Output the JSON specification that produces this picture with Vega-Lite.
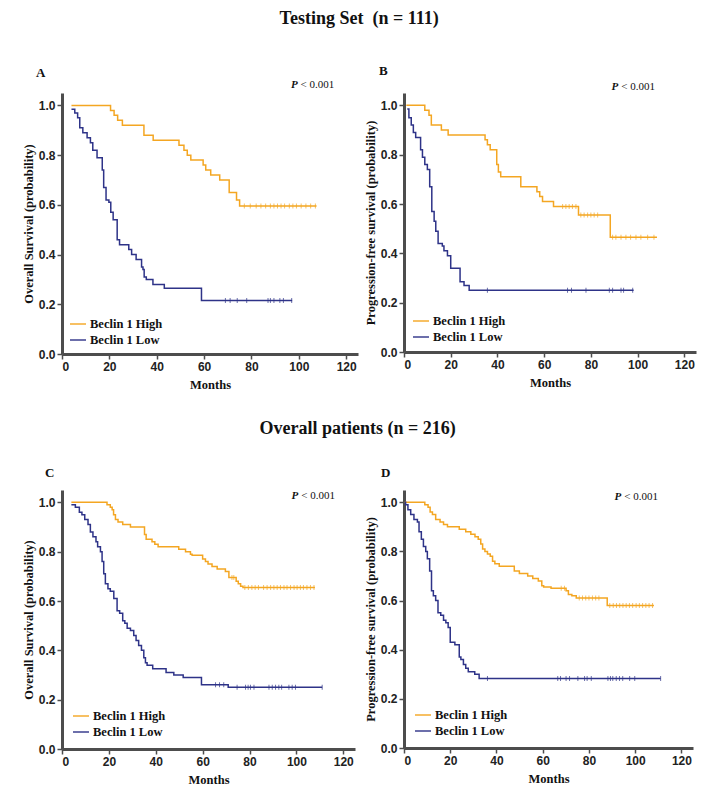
{
  "$schema": "https://vega.github.io/schema/vega-lite/v6.json",
  "background": "white",
  "padding": {"left": 22, "top": 10, "right": 5, "bottom": 5},
  "config": {
    "view": {"stroke": null},
    "axis": {"grid": false, "domainColor": "#4d4d4d", "domainWidth": 3, "tickColor": "#4d4d4d", "tickWidth": 1.5, "tickSize": 5, "labelPadding": 2, "labelFont": "Liberation Sans", "labelFontWeight": "bold", "labelFontSize": 12, "labelColor": "#222222", "titleFont": "Liberation Serif", "titleFontWeight": "bold", "titleFontSize": 12.5, "titleColor": "#111111", "titlePadding": 3},
    "axisX": {"titlePadding": 6},
    "legend": {"title": null, "symbolType": "stroke", "symbolSize": 256, "symbolStrokeWidth": 2, "labelFont": "Liberation Serif", "labelFontWeight": "bold", "labelFontSize": 12.5, "labelColor": "#111111", "labelOffset": 3, "rowPadding": 0, "padding": 0},
    "title": {"font": "Liberation Serif", "fontWeight": "bold", "color": "#111111"}
  },
  "datasets": {
    "curves": [
      {"panel":"A","group":"Beclin 1 High","month":4,"surv":1},
      {"panel":"A","group":"Beclin 1 High","month":20.5,"surv":0.98},
      {"panel":"A","group":"Beclin 1 High","month":22,"surv":0.96},
      {"panel":"A","group":"Beclin 1 High","month":23.5,"surv":0.94},
      {"panel":"A","group":"Beclin 1 High","month":25.5,"surv":0.92},
      {"panel":"A","group":"Beclin 1 High","month":34.6,"surv":0.88},
      {"panel":"A","group":"Beclin 1 High","month":38.5,"surv":0.86},
      {"panel":"A","group":"Beclin 1 High","month":49.4,"surv":0.84},
      {"panel":"A","group":"Beclin 1 High","month":51.5,"surv":0.82},
      {"panel":"A","group":"Beclin 1 High","month":52.9,"surv":0.80},
      {"panel":"A","group":"Beclin 1 High","month":54.4,"surv":0.78},
      {"panel":"A","group":"Beclin 1 High","month":59.6,"surv":0.76},
      {"panel":"A","group":"Beclin 1 High","month":60.7,"surv":0.74},
      {"panel":"A","group":"Beclin 1 High","month":62.8,"surv":0.72},
      {"panel":"A","group":"Beclin 1 High","month":66.6,"surv":0.70},
      {"panel":"A","group":"Beclin 1 High","month":70.6,"surv":0.65},
      {"panel":"A","group":"Beclin 1 High","month":73.7,"surv":0.62},
      {"panel":"A","group":"Beclin 1 High","month":75,"surv":0.595},
      {"panel":"A","group":"Beclin 1 High","month":107.5,"surv":0.595},
      {"panel":"A","group":"Beclin 1 Low","month":4,"surv":0.985},
      {"panel":"A","group":"Beclin 1 Low","month":5.4,"surv":0.97},
      {"panel":"A","group":"Beclin 1 Low","month":6.6,"surv":0.95},
      {"panel":"A","group":"Beclin 1 Low","month":7.5,"surv":0.91},
      {"panel":"A","group":"Beclin 1 Low","month":8.8,"surv":0.89},
      {"panel":"A","group":"Beclin 1 Low","month":10.6,"surv":0.87},
      {"panel":"A","group":"Beclin 1 Low","month":12,"surv":0.85},
      {"panel":"A","group":"Beclin 1 Low","month":13,"surv":0.82},
      {"panel":"A","group":"Beclin 1 Low","month":14.8,"surv":0.79},
      {"panel":"A","group":"Beclin 1 Low","month":17,"surv":0.74},
      {"panel":"A","group":"Beclin 1 Low","month":17.6,"surv":0.67},
      {"panel":"A","group":"Beclin 1 Low","month":18.6,"surv":0.62},
      {"panel":"A","group":"Beclin 1 Low","month":19.8,"surv":0.61},
      {"panel":"A","group":"Beclin 1 Low","month":20.6,"surv":0.57},
      {"panel":"A","group":"Beclin 1 Low","month":21.6,"surv":0.54},
      {"panel":"A","group":"Beclin 1 Low","month":23.3,"surv":0.46},
      {"panel":"A","group":"Beclin 1 Low","month":24.3,"surv":0.44},
      {"panel":"A","group":"Beclin 1 Low","month":28.2,"surv":0.42},
      {"panel":"A","group":"Beclin 1 Low","month":29.4,"surv":0.40},
      {"panel":"A","group":"Beclin 1 Low","month":31.3,"surv":0.38},
      {"panel":"A","group":"Beclin 1 Low","month":33.6,"surv":0.35},
      {"panel":"A","group":"Beclin 1 Low","month":34.2,"surv":0.34},
      {"panel":"A","group":"Beclin 1 Low","month":34.7,"surv":0.31},
      {"panel":"A","group":"Beclin 1 Low","month":35.6,"surv":0.30},
      {"panel":"A","group":"Beclin 1 Low","month":38.4,"surv":0.28},
      {"panel":"A","group":"Beclin 1 Low","month":43.2,"surv":0.265},
      {"panel":"A","group":"Beclin 1 Low","month":58.9,"surv":0.215},
      {"panel":"A","group":"Beclin 1 Low","month":97.2,"surv":0.215},
      {"panel":"B","group":"Beclin 1 High","month":1,"surv":1},
      {"panel":"B","group":"Beclin 1 High","month":8.9,"surv":0.98},
      {"panel":"B","group":"Beclin 1 High","month":10.7,"surv":0.96},
      {"panel":"B","group":"Beclin 1 High","month":11.7,"surv":0.92},
      {"panel":"B","group":"Beclin 1 High","month":16,"surv":0.90},
      {"panel":"B","group":"Beclin 1 High","month":18.9,"surv":0.88},
      {"panel":"B","group":"Beclin 1 High","month":34.7,"surv":0.86},
      {"panel":"B","group":"Beclin 1 High","month":35.7,"surv":0.84},
      {"panel":"B","group":"Beclin 1 High","month":36.9,"surv":0.82},
      {"panel":"B","group":"Beclin 1 High","month":39.7,"surv":0.76},
      {"panel":"B","group":"Beclin 1 High","month":40.4,"surv":0.73},
      {"panel":"B","group":"Beclin 1 High","month":41.4,"surv":0.71},
      {"panel":"B","group":"Beclin 1 High","month":50,"surv":0.67},
      {"panel":"B","group":"Beclin 1 High","month":56.9,"surv":0.65},
      {"panel":"B","group":"Beclin 1 High","month":58.1,"surv":0.63},
      {"panel":"B","group":"Beclin 1 High","month":59.3,"surv":0.61},
      {"panel":"B","group":"Beclin 1 High","month":64,"surv":0.59},
      {"panel":"B","group":"Beclin 1 High","month":74.7,"surv":0.555},
      {"panel":"B","group":"Beclin 1 High","month":88.3,"surv":0.465},
      {"panel":"B","group":"Beclin 1 High","month":108.3,"surv":0.465},
      {"panel":"B","group":"Beclin 1 Low","month":1.4,"surv":0.985},
      {"panel":"B","group":"Beclin 1 Low","month":2.1,"surv":0.95},
      {"panel":"B","group":"Beclin 1 Low","month":3.1,"surv":0.92},
      {"panel":"B","group":"Beclin 1 Low","month":4,"surv":0.89},
      {"panel":"B","group":"Beclin 1 Low","month":5,"surv":0.87},
      {"panel":"B","group":"Beclin 1 Low","month":7.1,"surv":0.82},
      {"panel":"B","group":"Beclin 1 Low","month":7.9,"surv":0.79},
      {"panel":"B","group":"Beclin 1 Low","month":8.9,"surv":0.76},
      {"panel":"B","group":"Beclin 1 Low","month":10,"surv":0.74},
      {"panel":"B","group":"Beclin 1 Low","month":11,"surv":0.67},
      {"panel":"B","group":"Beclin 1 Low","month":11.9,"surv":0.57},
      {"panel":"B","group":"Beclin 1 Low","month":12.9,"surv":0.53},
      {"panel":"B","group":"Beclin 1 Low","month":13.6,"surv":0.49},
      {"panel":"B","group":"Beclin 1 Low","month":14.6,"surv":0.44},
      {"panel":"B","group":"Beclin 1 Low","month":16.4,"surv":0.43},
      {"panel":"B","group":"Beclin 1 Low","month":17.1,"surv":0.41},
      {"panel":"B","group":"Beclin 1 Low","month":18.6,"surv":0.39},
      {"panel":"B","group":"Beclin 1 Low","month":20,"surv":0.34},
      {"panel":"B","group":"Beclin 1 Low","month":24,"surv":0.285},
      {"panel":"B","group":"Beclin 1 Low","month":25.7,"surv":0.27},
      {"panel":"B","group":"Beclin 1 Low","month":27.9,"surv":0.25},
      {"panel":"B","group":"Beclin 1 Low","month":98.3,"surv":0.25},
      {"panel":"C","group":"Beclin 1 High","month":4,"surv":1},
      {"panel":"C","group":"Beclin 1 High","month":19.2,"surv":0.99},
      {"panel":"C","group":"Beclin 1 High","month":20.6,"surv":0.98},
      {"panel":"C","group":"Beclin 1 High","month":21.4,"surv":0.97},
      {"panel":"C","group":"Beclin 1 High","month":22,"surv":0.95},
      {"panel":"C","group":"Beclin 1 High","month":22.8,"surv":0.93},
      {"panel":"C","group":"Beclin 1 High","month":23.9,"surv":0.92},
      {"panel":"C","group":"Beclin 1 High","month":25.9,"surv":0.91},
      {"panel":"C","group":"Beclin 1 High","month":29.2,"surv":0.90},
      {"panel":"C","group":"Beclin 1 High","month":35.2,"surv":0.87},
      {"panel":"C","group":"Beclin 1 High","month":35.9,"surv":0.85},
      {"panel":"C","group":"Beclin 1 High","month":38.4,"surv":0.84},
      {"panel":"C","group":"Beclin 1 High","month":39.6,"surv":0.83},
      {"panel":"C","group":"Beclin 1 High","month":41,"surv":0.82},
      {"panel":"C","group":"Beclin 1 High","month":49.8,"surv":0.81},
      {"panel":"C","group":"Beclin 1 High","month":52.7,"surv":0.80},
      {"panel":"C","group":"Beclin 1 High","month":54.8,"surv":0.79},
      {"panel":"C","group":"Beclin 1 High","month":55.5,"surv":0.785},
      {"panel":"C","group":"Beclin 1 High","month":60,"surv":0.77},
      {"panel":"C","group":"Beclin 1 High","month":61.2,"surv":0.76},
      {"panel":"C","group":"Beclin 1 High","month":62.3,"surv":0.75},
      {"panel":"C","group":"Beclin 1 High","month":64,"surv":0.74},
      {"panel":"C","group":"Beclin 1 High","month":66.2,"surv":0.73},
      {"panel":"C","group":"Beclin 1 High","month":69.7,"surv":0.72},
      {"panel":"C","group":"Beclin 1 High","month":71.2,"surv":0.695},
      {"panel":"C","group":"Beclin 1 High","month":74.3,"surv":0.68},
      {"panel":"C","group":"Beclin 1 High","month":75.2,"surv":0.67},
      {"panel":"C","group":"Beclin 1 High","month":76.2,"surv":0.66},
      {"panel":"C","group":"Beclin 1 High","month":77.2,"surv":0.655},
      {"panel":"C","group":"Beclin 1 High","month":107.9,"surv":0.655},
      {"panel":"C","group":"Beclin 1 Low","month":4,"surv":0.99},
      {"panel":"C","group":"Beclin 1 Low","month":5.7,"surv":0.98},
      {"panel":"C","group":"Beclin 1 Low","month":7.4,"surv":0.96},
      {"panel":"C","group":"Beclin 1 Low","month":8.5,"surv":0.95},
      {"panel":"C","group":"Beclin 1 Low","month":9.7,"surv":0.93},
      {"panel":"C","group":"Beclin 1 Low","month":11.1,"surv":0.91},
      {"panel":"C","group":"Beclin 1 Low","month":12.1,"surv":0.88},
      {"panel":"C","group":"Beclin 1 Low","month":13.2,"surv":0.86},
      {"panel":"C","group":"Beclin 1 Low","month":14.5,"surv":0.84},
      {"panel":"C","group":"Beclin 1 Low","month":15.2,"surv":0.82},
      {"panel":"C","group":"Beclin 1 Low","month":16.4,"surv":0.80},
      {"panel":"C","group":"Beclin 1 Low","month":17.1,"surv":0.76},
      {"panel":"C","group":"Beclin 1 Low","month":17.8,"surv":0.71},
      {"panel":"C","group":"Beclin 1 Low","month":18.5,"surv":0.67},
      {"panel":"C","group":"Beclin 1 Low","month":19.6,"surv":0.65},
      {"panel":"C","group":"Beclin 1 Low","month":20.6,"surv":0.64},
      {"panel":"C","group":"Beclin 1 Low","month":22.1,"surv":0.61},
      {"panel":"C","group":"Beclin 1 Low","month":23.5,"surv":0.56},
      {"panel":"C","group":"Beclin 1 Low","month":24.6,"surv":0.55},
      {"panel":"C","group":"Beclin 1 Low","month":25.9,"surv":0.52},
      {"panel":"C","group":"Beclin 1 Low","month":26.8,"surv":0.51},
      {"panel":"C","group":"Beclin 1 Low","month":27.8,"surv":0.49},
      {"panel":"C","group":"Beclin 1 Low","month":29.2,"surv":0.48},
      {"panel":"C","group":"Beclin 1 Low","month":30.6,"surv":0.46},
      {"panel":"C","group":"Beclin 1 Low","month":31.6,"surv":0.44},
      {"panel":"C","group":"Beclin 1 Low","month":32.7,"surv":0.42},
      {"panel":"C","group":"Beclin 1 Low","month":33.9,"surv":0.40},
      {"panel":"C","group":"Beclin 1 Low","month":34.9,"surv":0.37},
      {"panel":"C","group":"Beclin 1 Low","month":35.6,"surv":0.35},
      {"panel":"C","group":"Beclin 1 Low","month":36.3,"surv":0.34},
      {"panel":"C","group":"Beclin 1 Low","month":38.7,"surv":0.325},
      {"panel":"C","group":"Beclin 1 Low","month":44.4,"surv":0.31},
      {"panel":"C","group":"Beclin 1 Low","month":47.7,"surv":0.30},
      {"panel":"C","group":"Beclin 1 Low","month":51.7,"surv":0.29},
      {"panel":"C","group":"Beclin 1 Low","month":59.5,"surv":0.26},
      {"panel":"C","group":"Beclin 1 Low","month":70.9,"surv":0.25},
      {"panel":"C","group":"Beclin 1 Low","month":111,"surv":0.25},
      {"panel":"D","group":"Beclin 1 High","month":0.3,"surv":1},
      {"panel":"D","group":"Beclin 1 High","month":9,"surv":0.99},
      {"panel":"D","group":"Beclin 1 High","month":10.4,"surv":0.98},
      {"panel":"D","group":"Beclin 1 High","month":11.3,"surv":0.96},
      {"panel":"D","group":"Beclin 1 High","month":12.3,"surv":0.95},
      {"panel":"D","group":"Beclin 1 High","month":13.7,"surv":0.93},
      {"panel":"D","group":"Beclin 1 High","month":15.6,"surv":0.92},
      {"panel":"D","group":"Beclin 1 High","month":17.1,"surv":0.91},
      {"panel":"D","group":"Beclin 1 High","month":18.8,"surv":0.90},
      {"panel":"D","group":"Beclin 1 High","month":23.9,"surv":0.89},
      {"panel":"D","group":"Beclin 1 High","month":26.7,"surv":0.88},
      {"panel":"D","group":"Beclin 1 High","month":28.9,"surv":0.87},
      {"panel":"D","group":"Beclin 1 High","month":30.7,"surv":0.86},
      {"panel":"D","group":"Beclin 1 High","month":32.1,"surv":0.85},
      {"panel":"D","group":"Beclin 1 High","month":33.2,"surv":0.83},
      {"panel":"D","group":"Beclin 1 High","month":34,"surv":0.81},
      {"panel":"D","group":"Beclin 1 High","month":35,"surv":0.80},
      {"panel":"D","group":"Beclin 1 High","month":36.1,"surv":0.79},
      {"panel":"D","group":"Beclin 1 High","month":37.3,"surv":0.78},
      {"panel":"D","group":"Beclin 1 High","month":38.3,"surv":0.76},
      {"panel":"D","group":"Beclin 1 High","month":39.3,"surv":0.75},
      {"panel":"D","group":"Beclin 1 High","month":41.2,"surv":0.74},
      {"panel":"D","group":"Beclin 1 High","month":47.7,"surv":0.72},
      {"panel":"D","group":"Beclin 1 High","month":49.9,"surv":0.71},
      {"panel":"D","group":"Beclin 1 High","month":53.5,"surv":0.70},
      {"panel":"D","group":"Beclin 1 High","month":55.7,"surv":0.69},
      {"panel":"D","group":"Beclin 1 High","month":58.1,"surv":0.68},
      {"panel":"D","group":"Beclin 1 High","month":59.6,"surv":0.66},
      {"panel":"D","group":"Beclin 1 High","month":60.4,"surv":0.655},
      {"panel":"D","group":"Beclin 1 High","month":63.6,"surv":0.65},
      {"panel":"D","group":"Beclin 1 High","month":70.1,"surv":0.64},
      {"panel":"D","group":"Beclin 1 High","month":71.1,"surv":0.625},
      {"panel":"D","group":"Beclin 1 High","month":72.6,"surv":0.62},
      {"panel":"D","group":"Beclin 1 High","month":74.5,"surv":0.61},
      {"panel":"D","group":"Beclin 1 High","month":87.9,"surv":0.58},
      {"panel":"D","group":"Beclin 1 High","month":108.1,"surv":0.58},
      {"panel":"D","group":"Beclin 1 Low","month":0.3,"surv":1},
      {"panel":"D","group":"Beclin 1 Low","month":0.7,"surv":0.99},
      {"panel":"D","group":"Beclin 1 Low","month":1.7,"surv":0.97},
      {"panel":"D","group":"Beclin 1 Low","month":2.9,"surv":0.95},
      {"panel":"D","group":"Beclin 1 Low","month":4.3,"surv":0.93},
      {"panel":"D","group":"Beclin 1 Low","month":5.8,"surv":0.92},
      {"panel":"D","group":"Beclin 1 Low","month":6.5,"surv":0.88},
      {"panel":"D","group":"Beclin 1 Low","month":7.5,"surv":0.85},
      {"panel":"D","group":"Beclin 1 Low","month":8.4,"surv":0.82},
      {"panel":"D","group":"Beclin 1 Low","month":9.4,"surv":0.80},
      {"panel":"D","group":"Beclin 1 Low","month":10.1,"surv":0.77},
      {"panel":"D","group":"Beclin 1 Low","month":11.1,"surv":0.72},
      {"panel":"D","group":"Beclin 1 Low","month":11.9,"surv":0.64},
      {"panel":"D","group":"Beclin 1 Low","month":12.7,"surv":0.62},
      {"panel":"D","group":"Beclin 1 Low","month":13.7,"surv":0.60},
      {"panel":"D","group":"Beclin 1 Low","month":14.7,"surv":0.55},
      {"panel":"D","group":"Beclin 1 Low","month":15.9,"surv":0.54},
      {"panel":"D","group":"Beclin 1 Low","month":17.1,"surv":0.52},
      {"panel":"D","group":"Beclin 1 Low","month":18.1,"surv":0.51},
      {"panel":"D","group":"Beclin 1 Low","month":19.1,"surv":0.49},
      {"panel":"D","group":"Beclin 1 Low","month":20,"surv":0.43},
      {"panel":"D","group":"Beclin 1 Low","month":22,"surv":0.42},
      {"panel":"D","group":"Beclin 1 Low","month":23.9,"surv":0.37},
      {"panel":"D","group":"Beclin 1 Low","month":24.6,"surv":0.36},
      {"panel":"D","group":"Beclin 1 Low","month":25.7,"surv":0.34},
      {"panel":"D","group":"Beclin 1 Low","month":26.7,"surv":0.325},
      {"panel":"D","group":"Beclin 1 Low","month":27.8,"surv":0.31},
      {"panel":"D","group":"Beclin 1 Low","month":30.6,"surv":0.30},
      {"panel":"D","group":"Beclin 1 Low","month":32.5,"surv":0.283},
      {"panel":"D","group":"Beclin 1 Low","month":111,"surv":0.283}
    ],
    "censor": [
      {"panel":"A","group":"Beclin 1 High","month":77,"surv":0.595},
      {"panel":"A","group":"Beclin 1 High","month":79.5,"surv":0.595},
      {"panel":"A","group":"Beclin 1 High","month":82,"surv":0.595},
      {"panel":"A","group":"Beclin 1 High","month":84,"surv":0.595},
      {"panel":"A","group":"Beclin 1 High","month":86,"surv":0.595},
      {"panel":"A","group":"Beclin 1 High","month":88,"surv":0.595},
      {"panel":"A","group":"Beclin 1 High","month":89.5,"surv":0.595},
      {"panel":"A","group":"Beclin 1 High","month":91,"surv":0.595},
      {"panel":"A","group":"Beclin 1 High","month":92.5,"surv":0.595},
      {"panel":"A","group":"Beclin 1 High","month":94,"surv":0.595},
      {"panel":"A","group":"Beclin 1 High","month":96,"surv":0.595},
      {"panel":"A","group":"Beclin 1 High","month":97.5,"surv":0.595},
      {"panel":"A","group":"Beclin 1 High","month":99,"surv":0.595},
      {"panel":"A","group":"Beclin 1 High","month":101,"surv":0.595},
      {"panel":"A","group":"Beclin 1 High","month":103,"surv":0.595},
      {"panel":"A","group":"Beclin 1 High","month":105,"surv":0.595},
      {"panel":"A","group":"Beclin 1 High","month":107,"surv":0.595},
      {"panel":"A","group":"Beclin 1 Low","month":69,"surv":0.215},
      {"panel":"A","group":"Beclin 1 Low","month":71,"surv":0.215},
      {"panel":"A","group":"Beclin 1 Low","month":74,"surv":0.215},
      {"panel":"A","group":"Beclin 1 Low","month":78,"surv":0.215},
      {"panel":"A","group":"Beclin 1 Low","month":87,"surv":0.215},
      {"panel":"A","group":"Beclin 1 Low","month":88,"surv":0.215},
      {"panel":"A","group":"Beclin 1 Low","month":89.5,"surv":0.215},
      {"panel":"A","group":"Beclin 1 Low","month":92,"surv":0.215},
      {"panel":"A","group":"Beclin 1 Low","month":93.5,"surv":0.215},
      {"panel":"A","group":"Beclin 1 Low","month":97,"surv":0.215},
      {"panel":"B","group":"Beclin 1 High","month":67.9,"surv":0.59},
      {"panel":"B","group":"Beclin 1 High","month":69.3,"surv":0.59},
      {"panel":"B","group":"Beclin 1 High","month":70.7,"surv":0.59},
      {"panel":"B","group":"Beclin 1 High","month":72.1,"surv":0.59},
      {"panel":"B","group":"Beclin 1 High","month":73.6,"surv":0.59},
      {"panel":"B","group":"Beclin 1 High","month":75.7,"surv":0.555},
      {"panel":"B","group":"Beclin 1 High","month":77.1,"surv":0.555},
      {"panel":"B","group":"Beclin 1 High","month":78.6,"surv":0.555},
      {"panel":"B","group":"Beclin 1 High","month":80,"surv":0.555},
      {"panel":"B","group":"Beclin 1 High","month":81.4,"surv":0.555},
      {"panel":"B","group":"Beclin 1 High","month":82.9,"surv":0.555},
      {"panel":"B","group":"Beclin 1 High","month":89.3,"surv":0.465},
      {"panel":"B","group":"Beclin 1 High","month":90.7,"surv":0.465},
      {"panel":"B","group":"Beclin 1 High","month":92.9,"surv":0.465},
      {"panel":"B","group":"Beclin 1 High","month":95,"surv":0.465},
      {"panel":"B","group":"Beclin 1 High","month":97,"surv":0.465},
      {"panel":"B","group":"Beclin 1 High","month":99.3,"surv":0.465},
      {"panel":"B","group":"Beclin 1 High","month":101.4,"surv":0.465},
      {"panel":"B","group":"Beclin 1 High","month":104.3,"surv":0.465},
      {"panel":"B","group":"Beclin 1 High","month":107,"surv":0.465},
      {"panel":"B","group":"Beclin 1 Low","month":35.7,"surv":0.25},
      {"panel":"B","group":"Beclin 1 Low","month":70,"surv":0.25},
      {"panel":"B","group":"Beclin 1 Low","month":71.7,"surv":0.25},
      {"panel":"B","group":"Beclin 1 Low","month":77.9,"surv":0.25},
      {"panel":"B","group":"Beclin 1 Low","month":87.9,"surv":0.25},
      {"panel":"B","group":"Beclin 1 Low","month":89.3,"surv":0.25},
      {"panel":"B","group":"Beclin 1 Low","month":92.9,"surv":0.25},
      {"panel":"B","group":"Beclin 1 Low","month":94,"surv":0.25},
      {"panel":"B","group":"Beclin 1 Low","month":97.9,"surv":0.25},
      {"panel":"C","group":"Beclin 1 High","month":72.5,"surv":0.695},
      {"panel":"C","group":"Beclin 1 High","month":73.3,"surv":0.695},
      {"panel":"C","group":"Beclin 1 High","month":78,"surv":0.655},
      {"panel":"C","group":"Beclin 1 High","month":79.5,"surv":0.655},
      {"panel":"C","group":"Beclin 1 High","month":81,"surv":0.655},
      {"panel":"C","group":"Beclin 1 High","month":82.4,"surv":0.655},
      {"panel":"C","group":"Beclin 1 High","month":83.8,"surv":0.655},
      {"panel":"C","group":"Beclin 1 High","month":86,"surv":0.655},
      {"panel":"C","group":"Beclin 1 High","month":87.5,"surv":0.655},
      {"panel":"C","group":"Beclin 1 High","month":89,"surv":0.655},
      {"panel":"C","group":"Beclin 1 High","month":90.4,"surv":0.655},
      {"panel":"C","group":"Beclin 1 High","month":91.8,"surv":0.655},
      {"panel":"C","group":"Beclin 1 High","month":93.2,"surv":0.655},
      {"panel":"C","group":"Beclin 1 High","month":94.7,"surv":0.655},
      {"panel":"C","group":"Beclin 1 High","month":96,"surv":0.655},
      {"panel":"C","group":"Beclin 1 High","month":97.5,"surv":0.655},
      {"panel":"C","group":"Beclin 1 High","month":99,"surv":0.655},
      {"panel":"C","group":"Beclin 1 High","month":100.3,"surv":0.655},
      {"panel":"C","group":"Beclin 1 High","month":101.7,"surv":0.655},
      {"panel":"C","group":"Beclin 1 High","month":103,"surv":0.655},
      {"panel":"C","group":"Beclin 1 High","month":104.5,"surv":0.655},
      {"panel":"C","group":"Beclin 1 High","month":106,"surv":0.655},
      {"panel":"C","group":"Beclin 1 High","month":107.5,"surv":0.655},
      {"panel":"C","group":"Beclin 1 Low","month":65.5,"surv":0.26},
      {"panel":"C","group":"Beclin 1 Low","month":67.2,"surv":0.26},
      {"panel":"C","group":"Beclin 1 Low","month":69,"surv":0.26},
      {"panel":"C","group":"Beclin 1 Low","month":74.7,"surv":0.25},
      {"panel":"C","group":"Beclin 1 Low","month":78.3,"surv":0.25},
      {"panel":"C","group":"Beclin 1 Low","month":79.4,"surv":0.25},
      {"panel":"C","group":"Beclin 1 Low","month":80.4,"surv":0.25},
      {"panel":"C","group":"Beclin 1 Low","month":81.9,"surv":0.25},
      {"panel":"C","group":"Beclin 1 Low","month":88.3,"surv":0.25},
      {"panel":"C","group":"Beclin 1 Low","month":89.7,"surv":0.25},
      {"panel":"C","group":"Beclin 1 Low","month":91.1,"surv":0.25},
      {"panel":"C","group":"Beclin 1 Low","month":92.5,"surv":0.25},
      {"panel":"C","group":"Beclin 1 Low","month":93.7,"surv":0.25},
      {"panel":"C","group":"Beclin 1 Low","month":96.8,"surv":0.25},
      {"panel":"C","group":"Beclin 1 Low","month":98.2,"surv":0.25},
      {"panel":"C","group":"Beclin 1 Low","month":99.6,"surv":0.25},
      {"panel":"C","group":"Beclin 1 Low","month":111,"surv":0.25},
      {"panel":"D","group":"Beclin 1 High","month":68,"surv":0.65},
      {"panel":"D","group":"Beclin 1 High","month":69.4,"surv":0.65},
      {"panel":"D","group":"Beclin 1 High","month":75.8,"surv":0.61},
      {"panel":"D","group":"Beclin 1 High","month":77.2,"surv":0.61},
      {"panel":"D","group":"Beclin 1 High","month":78.6,"surv":0.61},
      {"panel":"D","group":"Beclin 1 High","month":80,"surv":0.61},
      {"panel":"D","group":"Beclin 1 High","month":81.5,"surv":0.61},
      {"panel":"D","group":"Beclin 1 High","month":82.9,"surv":0.61},
      {"panel":"D","group":"Beclin 1 High","month":84.3,"surv":0.61},
      {"panel":"D","group":"Beclin 1 High","month":89,"surv":0.58},
      {"panel":"D","group":"Beclin 1 High","month":90.5,"surv":0.58},
      {"panel":"D","group":"Beclin 1 High","month":91.9,"surv":0.58},
      {"panel":"D","group":"Beclin 1 High","month":93.3,"surv":0.58},
      {"panel":"D","group":"Beclin 1 High","month":94.7,"surv":0.58},
      {"panel":"D","group":"Beclin 1 High","month":96.1,"surv":0.58},
      {"panel":"D","group":"Beclin 1 High","month":97.5,"surv":0.58},
      {"panel":"D","group":"Beclin 1 High","month":98.9,"surv":0.58},
      {"panel":"D","group":"Beclin 1 High","month":100.4,"surv":0.58},
      {"panel":"D","group":"Beclin 1 High","month":101.8,"surv":0.58},
      {"panel":"D","group":"Beclin 1 High","month":103.2,"surv":0.58},
      {"panel":"D","group":"Beclin 1 High","month":104.6,"surv":0.58},
      {"panel":"D","group":"Beclin 1 High","month":106,"surv":0.58},
      {"panel":"D","group":"Beclin 1 High","month":107.5,"surv":0.58},
      {"panel":"D","group":"Beclin 1 Low","month":36.1,"surv":0.283},
      {"panel":"D","group":"Beclin 1 Low","month":66.5,"surv":0.283},
      {"panel":"D","group":"Beclin 1 Low","month":67.7,"surv":0.283},
      {"panel":"D","group":"Beclin 1 Low","month":70.1,"surv":0.283},
      {"panel":"D","group":"Beclin 1 Low","month":71.6,"surv":0.283},
      {"panel":"D","group":"Beclin 1 Low","month":75.2,"surv":0.283},
      {"panel":"D","group":"Beclin 1 Low","month":78.1,"surv":0.283},
      {"panel":"D","group":"Beclin 1 Low","month":79.2,"surv":0.283},
      {"panel":"D","group":"Beclin 1 Low","month":81,"surv":0.283},
      {"panel":"D","group":"Beclin 1 Low","month":88.2,"surv":0.283},
      {"panel":"D","group":"Beclin 1 Low","month":89.3,"surv":0.283},
      {"panel":"D","group":"Beclin 1 Low","month":90.3,"surv":0.283},
      {"panel":"D","group":"Beclin 1 Low","month":91.8,"surv":0.283},
      {"panel":"D","group":"Beclin 1 Low","month":93.2,"surv":0.283},
      {"panel":"D","group":"Beclin 1 Low","month":94.6,"surv":0.283},
      {"panel":"D","group":"Beclin 1 Low","month":97.6,"surv":0.283},
      {"panel":"D","group":"Beclin 1 Low","month":99.8,"surv":0.283},
      {"panel":"D","group":"Beclin 1 Low","month":111,"surv":0.283}
    ],
    "ann": [
      {"panel":"A","month":99.5,"surv":1.084,"p":"P","rest":"< 0.001"},
      {"panel":"B","month":91.7,"surv":1.073,"p":"P","rest":"< 0.001"},
      {"panel":"C","month":100.8,"surv":1.024,"p":"P","rest":"< 0.001"},
      {"panel":"D","month":94,"surv":1.02,"p":"P","rest":"< 0.001"}
    ]
  },
  "vconcat": [
    {
      "title": {"text": "Testing Set\u00a0 (n = 111)", "anchor": "middle", "fontSize": 18, "offset": 37},
      "bounds": "flush",
      "spacing": 46,
      "resolve": {"scale": {"color": "independent"}, "legend": {"color": "independent"}},
      "hconcat": [
        {
          "width": 296, "height": 261,
          "title": {"text": "A", "anchor": "start", "frame": "group", "dx": -26, "offset": -1, "fontSize": 13},
          "layer": [
            {"data": {"name": "curves"}, "transform": [{"filter": "datum.panel === 'A'"}],
             "mark": {"type": "line", "interpolate": "step-after", "strokeWidth": 1.5},
             "encoding": {
               "x": {"field": "month", "type": "quantitative", "scale": {"domain": [0, 125], "nice": false}, "axis": {"values": [0, 20, 40, 60, 80, 100, 120], "title": "Months"}},
               "y": {"field": "surv", "type": "quantitative", "scale": {"domain": [0, 1.05], "nice": false}, "axis": {"values": [0, 0.2, 0.4, 0.6, 0.8, 1], "format": ".1f", "title": "Overall Survival (probability)"}},
               "color": {"field": "group", "type": "nominal", "scale": {"domain": ["Beclin 1 High", "Beclin 1 Low"], "range": ["#f4a622", "#2e3388"]}, "legend": {"orient": "bottom-left", "offset": 7}}
             }},
            {"data": {"name": "censor"}, "transform": [{"filter": "datum.panel === 'A'"}],
             "mark": {"type": "tick", "orient": "vertical", "size": 5, "thickness": 1},
             "encoding": {"x": {"field": "month", "type": "quantitative"}, "y": {"field": "surv", "type": "quantitative"}, "color": {"field": "group", "type": "nominal"}}},
            {"data": {"name": "ann"}, "transform": [{"filter": "datum.panel === 'A'"}],
             "mark": {"type": "text", "font": "Liberation Serif", "fontStyle": "italic", "fontWeight": "bold", "fontSize": 11, "align": "right", "color": "#111111"},
             "encoding": {"x": {"field": "month", "type": "quantitative"}, "y": {"field": "surv", "type": "quantitative"}, "text": {"field": "p"}}},
            {"data": {"name": "ann"}, "transform": [{"filter": "datum.panel === 'A'"}],
             "mark": {"type": "text", "font": "Liberation Serif", "fontSize": 11, "align": "left", "dx": 3, "color": "#111111"},
             "encoding": {"x": {"field": "month", "type": "quantitative"}, "y": {"field": "surv", "type": "quantitative"}, "text": {"field": "rest"}}}
          ]
        },
        {
          "width": 292, "height": 259,
          "title": {"text": "B", "anchor": "start", "frame": "group", "dx": -25, "offset": 3, "fontSize": 13},
          "layer": [
            {"data": {"name": "curves"}, "transform": [{"filter": "datum.panel === 'B'"}],
             "mark": {"type": "line", "interpolate": "step-after", "strokeWidth": 1.5},
             "encoding": {
               "x": {"field": "month", "type": "quantitative", "scale": {"domain": [0, 125], "nice": false}, "axis": {"values": [0, 20, 40, 60, 80, 100, 120], "title": "Months"}},
               "y": {"field": "surv", "type": "quantitative", "scale": {"domain": [0, 1.05], "nice": false}, "axis": {"values": [0, 0.2, 0.4, 0.6, 0.8, 1], "format": ".1f", "title": "Progression-free survival (probability)"}},
               "color": {"field": "group", "type": "nominal", "scale": {"domain": ["Beclin 1 High", "Beclin 1 Low"], "range": ["#f4a622", "#2e3388"]}, "legend": {"orient": "bottom-left", "offset": 8}}
             }},
            {"data": {"name": "censor"}, "transform": [{"filter": "datum.panel === 'B'"}],
             "mark": {"type": "tick", "orient": "vertical", "size": 5, "thickness": 1},
             "encoding": {"x": {"field": "month", "type": "quantitative"}, "y": {"field": "surv", "type": "quantitative"}, "color": {"field": "group", "type": "nominal"}}},
            {"data": {"name": "ann"}, "transform": [{"filter": "datum.panel === 'B'"}],
             "mark": {"type": "text", "font": "Liberation Serif", "fontStyle": "italic", "fontWeight": "bold", "fontSize": 11, "align": "right", "color": "#111111"},
             "encoding": {"x": {"field": "month", "type": "quantitative"}, "y": {"field": "surv", "type": "quantitative"}, "text": {"field": "p"}}},
            {"data": {"name": "ann"}, "transform": [{"filter": "datum.panel === 'B'"}],
             "mark": {"type": "text", "font": "Liberation Serif", "fontSize": 11, "align": "left", "dx": 3, "color": "#111111"},
             "encoding": {"x": {"field": "month", "type": "quantitative"}, "y": {"field": "surv", "type": "quantitative"}, "text": {"field": "rest"}}}
          ]
        }
      ]
    },
    {
      "title": {"text": "Overall patients (n = 216)", "anchor": "middle", "fontSize": 18, "offset": 29},
      "bounds": "flush",
      "spacing": 49,
      "resolve": {"scale": {"color": "independent"}, "legend": {"color": "independent"}},
      "hconcat": [
        {
          "width": 293, "height": 259,
          "title": {"text": "C", "anchor": "start", "frame": "group", "dx": -17, "offset": 10, "fontSize": 13},
          "layer": [
            {"data": {"name": "curves"}, "transform": [{"filter": "datum.panel === 'C'"}],
             "mark": {"type": "line", "interpolate": "step-after", "strokeWidth": 1.5},
             "encoding": {
               "x": {"field": "month", "type": "quantitative", "scale": {"domain": [0, 125], "nice": false}, "axis": {"values": [0, 20, 40, 60, 80, 100, 120], "title": "Months"}},
               "y": {"field": "surv", "type": "quantitative", "scale": {"domain": [0, 1.05], "nice": false}, "axis": {"values": [0, 0.2, 0.4, 0.6, 0.8, 1], "format": ".1f", "title": "Overall Survival (probability)"}},
               "color": {"field": "group", "type": "nominal", "scale": {"domain": ["Beclin 1 High", "Beclin 1 Low"], "range": ["#f4a622", "#2e3388"]}, "legend": {"orient": "bottom-left", "offset": 10}}
             }},
            {"data": {"name": "censor"}, "transform": [{"filter": "datum.panel === 'C'"}],
             "mark": {"type": "tick", "orient": "vertical", "size": 5, "thickness": 1},
             "encoding": {"x": {"field": "month", "type": "quantitative"}, "y": {"field": "surv", "type": "quantitative"}, "color": {"field": "group", "type": "nominal"}}},
            {"data": {"name": "ann"}, "transform": [{"filter": "datum.panel === 'C'"}],
             "mark": {"type": "text", "font": "Liberation Serif", "fontStyle": "italic", "fontWeight": "bold", "fontSize": 11, "align": "right", "color": "#111111"},
             "encoding": {"x": {"field": "month", "type": "quantitative"}, "y": {"field": "surv", "type": "quantitative"}, "text": {"field": "p"}}},
            {"data": {"name": "ann"}, "transform": [{"filter": "datum.panel === 'C'"}],
             "mark": {"type": "text", "font": "Liberation Serif", "fontSize": 11, "align": "left", "dx": 3, "color": "#111111"},
             "encoding": {"x": {"field": "month", "type": "quantitative"}, "y": {"field": "surv", "type": "quantitative"}, "text": {"field": "rest"}}}
          ]
        },
        {
          "width": 289, "height": 258,
          "title": {"text": "D", "anchor": "start", "frame": "group", "dx": -23, "offset": 10, "fontSize": 13},
          "layer": [
            {"data": {"name": "curves"}, "transform": [{"filter": "datum.panel === 'D'"}],
             "mark": {"type": "line", "interpolate": "step-after", "strokeWidth": 1.5},
             "encoding": {
               "x": {"field": "month", "type": "quantitative", "scale": {"domain": [0, 125], "nice": false}, "axis": {"values": [0, 20, 40, 60, 80, 100, 120], "title": "Months"}},
               "y": {"field": "surv", "type": "quantitative", "scale": {"domain": [0, 1.05], "nice": false}, "axis": {"values": [0, 0.2, 0.4, 0.6, 0.8, 1], "format": ".1f", "title": "Progression-free survival (probability)"}},
               "color": {"field": "group", "type": "nominal", "scale": {"domain": ["Beclin 1 High", "Beclin 1 Low"], "range": ["#f4a622", "#2e3388"]}, "legend": {"orient": "bottom-left", "offset": 10}}
             }},
            {"data": {"name": "censor"}, "transform": [{"filter": "datum.panel === 'D'"}],
             "mark": {"type": "tick", "orient": "vertical", "size": 5, "thickness": 1},
             "encoding": {"x": {"field": "month", "type": "quantitative"}, "y": {"field": "surv", "type": "quantitative"}, "color": {"field": "group", "type": "nominal"}}},
            {"data": {"name": "ann"}, "transform": [{"filter": "datum.panel === 'D'"}],
             "mark": {"type": "text", "font": "Liberation Serif", "fontStyle": "italic", "fontWeight": "bold", "fontSize": 11, "align": "right", "color": "#111111"},
             "encoding": {"x": {"field": "month", "type": "quantitative"}, "y": {"field": "surv", "type": "quantitative"}, "text": {"field": "p"}}},
            {"data": {"name": "ann"}, "transform": [{"filter": "datum.panel === 'D'"}],
             "mark": {"type": "text", "font": "Liberation Serif", "fontSize": 11, "align": "left", "dx": 3, "color": "#111111"},
             "encoding": {"x": {"field": "month", "type": "quantitative"}, "y": {"field": "surv", "type": "quantitative"}, "text": {"field": "rest"}}}
          ]
        }
      ]
    }
  ],
  "spacing": 29,
  "resolve": {"scale": {"color": "independent"}, "legend": {"color": "independent"}}
}
